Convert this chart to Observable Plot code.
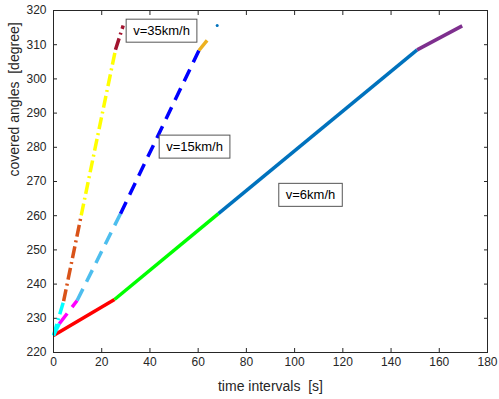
<!DOCTYPE html>
<html><head><meta charset="utf-8">
<script src="https://cdn.jsdelivr.net/npm/d3@7"></script>
<script src="https://cdn.jsdelivr.net/npm/@observablehq/plot@0.6"></script>
<style>
body{margin:0;background:#fff;}
#chart svg{display:block;}
</style>
</head><body><div id="chart"></div>
<script>
// ---- data ----
const xTicks = [0, 20, 40, 60, 80, 100, 120, 140, 160, 180];
const yTicks = [220, 230, 240, 250, 260, 270, 280, 290, 300, 310, 320];

// v = 6 km/h : solid, coloured segments between consecutive points
const t6 = [0, 25.3, 68.4, 150.8, 169.5];
const a6 = [225, 235.5, 260.6, 308.5, 315.5];
const c6 = ["#FF0000", "#00FF00", "#0072BD", "#7E2F8E"];

// v = 15 km/h : dashed
const t15 = [0, 2.4, 9.8, 27.8, 60.3, 64.8];
const a15 = [225, 228.4, 235.2, 260.6, 308.3, 312.2];
const c15 = ["#00FFFF", "#FF00FF", "#4DBEEE", "#0000FF", "#EDB120"];
const t15end = [67.9];
const a15end = [315.6];
const c15end = ["#0072BD"];

// v = 35 km/h : dash-dot
const t35 = [0, 4.2, 11.5, 25.7, 28.9];
const a35 = [225, 235.0, 260.1, 308.5, 315.6];
const c35 = ["#00FFFF", "#D95319", "#FFFF00", "#A2142F"];

// text boxes
const labelText = ["v=35km/h", "v=15km/h", "v=6km/h"];
const labelT = [44.8, 58.5, 106.6];
const labelA = [314.0, 280.1, 266.0];

// ---- build tables ----
function segments(t, a, c) {
  const rows = [];
  for (let i = 0; i < c.length; i++) {
    rows.push({seg: i, color: c[i], t: t[i], a: a[i]});
    rows.push({seg: i, color: c[i], t: t[i + 1], a: a[i + 1]});
  }
  return rows;
}
const rows6 = segments(t6, a6, c6);
const rows15 = segments(t15, a15, c15);
const rows35 = segments(t35, a35, c35);
const end15 = t15end.map((t, i) => ({t, a: a15end[i], color: c15end[i]}));
const labels = labelText.map((text, i) => ({text, t: labelT[i], a: labelA[i]}));

const axisColor = "#262626";

const chart = Plot.plot({
  width: 499,
  height: 399,
  marginLeft: 53,
  marginRight: 12,
  marginTop: 10,
  marginBottom: 47,
  style: {fontFamily: "'Liberation Sans', Arial, Helvetica, sans-serif", fontSize: "12px", color: axisColor, background: "#fff"},
  x: {domain: [0, 180]},
  y: {domain: [220, 320]},
  color: {type: "identity"},
  marks: [
    // labelled axes
    Plot.axisX(xTicks, {anchor: "bottom", tickSize: 0, tickPadding: 5, fontSize: 12, fill: axisColor,
      label: null}),
    Plot.axisY(yTicks, {anchor: "left", tickSize: 0, tickPadding: 7, fontSize: 12, fill: axisColor,
      label: null}),
    // inward ticks on all four sides
    Plot.axisX(xTicks, {anchor: "bottom", tickSize: -4, text: null, label: null, stroke: axisColor}),
    Plot.axisX(xTicks, {anchor: "top", tickSize: -4, text: null, label: null, stroke: axisColor}),
    Plot.axisY(yTicks, {anchor: "left", tickSize: -4, text: null, label: null, stroke: axisColor}),
    Plot.axisY(yTicks, {anchor: "right", tickSize: -4, text: null, label: null, stroke: axisColor}),
    // axis titles
    Plot.text(["time intervals \u00a0[s]"], {frameAnchor: "bottom", dy: 34, lineAnchor: "middle", fontSize: 14, fill: axisColor}),
    Plot.text(["covered angles \u00a0[degree]"], {frameAnchor: "left", dx: -39, dy: -5, rotate: -90, lineAnchor: "middle", fontSize: 14, fill: axisColor}),
    // data
    Plot.line(rows6, {x: "t", y: "a", z: "seg", stroke: "color", strokeWidth: 3.5, strokeLinecap: "butt"}),
    Plot.line(rows15, {x: "t", y: "a", z: "seg", stroke: "color", strokeWidth: 3.5, strokeDasharray: "13,8", strokeLinecap: "butt"}),
    Plot.dot(end15, {x: "t", y: "a", fill: "color", r: 1.5, stroke: null}),
    Plot.line(rows35, {x: "t", y: "a", z: "seg", stroke: "color", strokeWidth: 3.5, strokeDasharray: "12,4,2,4", strokeLinecap: "butt"}),
    // text labels (boxes added below)
    Plot.text(labels, {x: "t", y: "a", text: "text", fontSize: 13, fill: "#000"}),
    Plot.frame({stroke: axisColor, strokeWidth: 1})
  ]
});

document.getElementById("chart").append(chart);

// white boxes with grey border behind the speed labels
const ns = "http://www.w3.org/2000/svg";
Array.from(chart.querySelectorAll("text"))
  .filter(t => labelText.includes(t.textContent))
  .forEach(t => {
    const b = t.getBBox();
    const padX = 7, h = 23;
    const r = document.createElementNS(ns, "rect");
    r.setAttribute("x", b.x - padX);
    r.setAttribute("y", b.y + b.height / 2 - h / 2);
    r.setAttribute("width", b.width + 2 * padX);
    r.setAttribute("height", h);
    r.setAttribute("fill", "#fff");
    r.setAttribute("stroke", "#555");
    r.setAttribute("stroke-width", 1);
    if (t.getAttribute("transform")) r.setAttribute("transform", t.getAttribute("transform"));
    t.parentNode.insertBefore(r, t);
  });
</script>
</body></html>
